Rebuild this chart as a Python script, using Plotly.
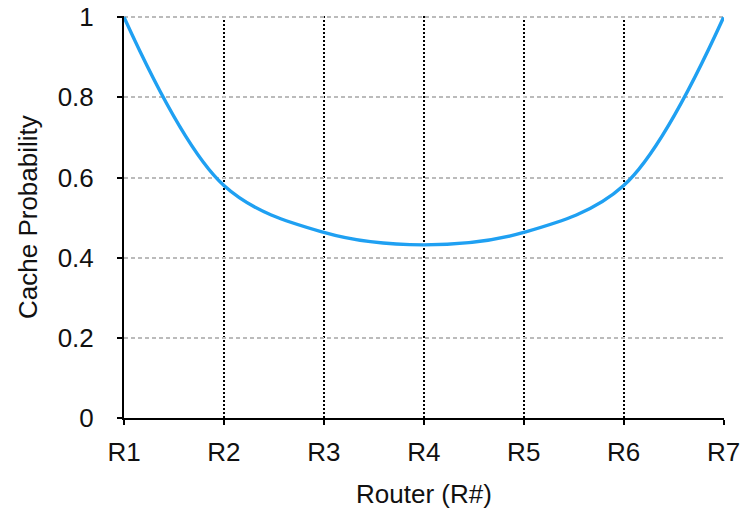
import plotly.graph_objects as go

routers = ["R1", "R2", "R3", "R4", "R5", "R6", "R7"]
cache_prob = [1.0, 0.58, 0.463, 0.432, 0.463, 0.58, 1.0]
y_ticks = [0, 0.2, 0.4, 0.6, 0.8, 1]
y_tick_labels = ["0", "0.2", "0.4", "0.6", "0.8", "1"]
x_title = "Router (R#)"
y_title = "Cache Probability"

fig = go.Figure()
fig.add_trace(go.Scatter(
    x=list(range(len(routers))), y=cache_prob, mode="lines",
    line=dict(color="#1FA0F2", width=3.4, shape="spline", smoothing=1.0),
    showlegend=False, cliponaxis=False,
))

font = dict(family="Liberation Sans, Arial, Helvetica, sans-serif", size=26, color="#111111")

fig.update_layout(
    width=742, height=517,
    margin=dict(l=124, r=18, t=16, b=99, autoexpand=False),
    paper_bgcolor="white", plot_bgcolor="white",
    font=font,
    xaxis=dict(
        range=[0, 6.004], tickmode="array", tickvals=list(range(len(routers))), ticktext=routers,
        showline=True, linecolor="black", linewidth=2,
        ticks="outside", ticklen=5, tickwidth=2, tickcolor="black",
        showgrid=True, gridcolor="black", gridwidth=1.6, griddash="2px,2px",
        zeroline=False, ticklabelstandoff=5, tickfont=font, automargin=False,
        ticklabeloverflow="allow",
        title=dict(text=x_title, standoff=19, font=font),
    ),
    yaxis=dict(
        range=[0, 1.003], tickmode="array", tickvals=y_ticks, ticktext=y_tick_labels,
        showline=True, linecolor="black", linewidth=2,
        ticks="outside", ticklen=5, tickwidth=2, tickcolor="black",
        showgrid=True, gridcolor="#bbbbbb", gridwidth=1.5, griddash="4px,3px",
        zeroline=False, ticklabelstandoff=18, tickfont=font, automargin=False,
        ticklabeloverflow="allow",
    ),
    annotations=[dict(
        text=y_title, textangle=-90, xref="paper", yref="paper",
        x=(28 - 124) / 600, y=0.5, xanchor="center", yanchor="middle",
        showarrow=False, font=font,
    )],
)

fig.write_html("out.html", post_script="document.body.style.margin='0';",
               config={"displayModeBar": False})
